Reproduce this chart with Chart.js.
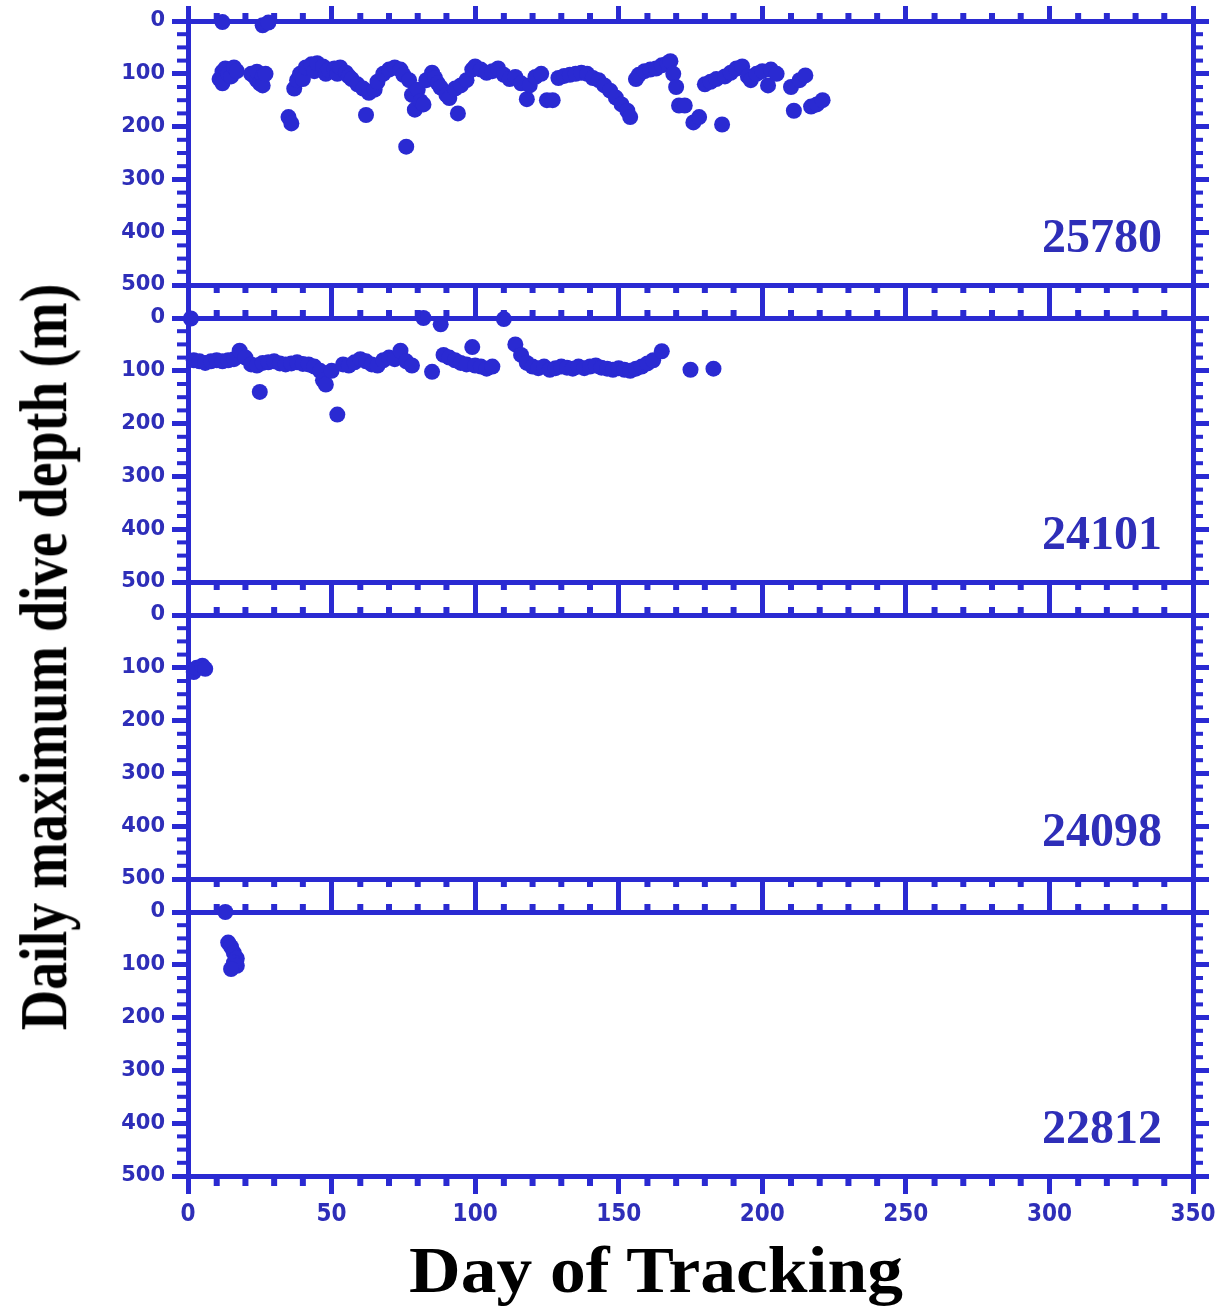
<!DOCTYPE html>
<html><head><meta charset="utf-8">
<script src="https://cdn.jsdelivr.net/npm/chart.js@4.4.0/dist/chart.umd.min.js"></script>
<style>
html,body{margin:0;padding:0;background:#fff;}
#wrap{position:relative;width:1230px;height:1306px;overflow:hidden;background:#fff;}
#wrap canvas{position:absolute;left:0;}
#ytitle{position:absolute;left:43px;top:657px;transform:translate(-50%,-50%) rotate(-90deg) scaleY(1.22);
  font:bold 56px "Liberation Serif","DejaVu Serif",serif;white-space:nowrap;color:#000;line-height:1;}
#xtitle{position:absolute;left:656px;top:1270px;transform:translate(-50%,-50%) scaleX(1.1);
  font:bold 65px "Liberation Serif","DejaVu Serif",serif;white-space:nowrap;color:#000;line-height:1;}
</style></head><body>
<div id="wrap">
  <canvas id="c0"></canvas><canvas id="c1"></canvas><canvas id="c2"></canvas><canvas id="c3"></canvas>
  <div id="ytitle">Daily maximum dive depth (m)</div>
  <div id="xtitle">Day of Tracking</div>
</div>
<script>
// ---------- data ----------
const dayTicks = [0, 50, 100, 150, 200, 250, 300, 350];
const depthTicks = [0, 100, 200, 300, 400, 500];
const tagIds = ['25780', '24101', '24098', '22812'];

const days25780 = [12,26,28, 11,12,12,13,14,15,16,17, 22,23,24,24,25,26,26,27,
  35,36,37,38,39,40,41,43,44,45,47,48,49,51,52,53,55,56,57,59,61,62,63,65,66,68,70,72,74,75,76,77,78,79,80,81,82,83,85,86,87,88,90,91,93,94,95,97,99,
  100,102,104,106,108,110,112,114,116,118,119,121,123,125,127,129,131,133,135,137,139,141,143,145,147,149,151,153,154,156,157,159,
  161,163,165,167,168,169,170,171,173,176,178,180,182,184,186,187,189,191,193,195,196,198,200,202,203,205,210,211,213,215,217,219,221];
const depth25780 = [2,8,3, 110,96,118,90,100,105,88,95, 100,104,112,96,118,105,122,100,
  182,194,128,112,100,110,88,82,95,80,86,100,92,90,100,88,98,105,110,120,128,178,136,130,115,100,92,88,92,102,238,112,140,168,130,152,158,112,98,108,118,126,140,146,128,175,122,112,92,
  86,92,98,95,90,102,110,106,118,148,122,106,100,150,150,108,104,102,100,98,100,108,112,122,132,145,158,170,182,110,102,95,
  92,90,84,80,76,100,125,160,160,192,182,120,115,110,196,105,98,90,86,105,112,100,95,122,92,100,125,170,112,103,162,158,150];

const days24101 = [1,2,4,6,8,10,12,14,16,18,20,22,24,25,26,28,30,32,34,36,38,40,42,44,46,47,48,50,52,54,56,58,60,62,64,66,68,70,72,74,76,78,
  82,85,88,89,91,93,95,97,99,100,102,104,106,110,114,116,118,120,122,124,126,128,130,132,134,136,138,140,142,144,146,148,150,152,154,156,158,160,162,165,175,183];
const depth24101 = [1,80,82,85,82,80,82,80,78,62,75,88,90,140,85,84,82,86,88,86,84,87,88,92,100,118,126,100,183,88,90,84,78,82,88,90,80,75,78,62,82,90,
  0,102,12,70,75,80,85,88,55,90,92,96,92,2,50,70,85,92,95,92,98,95,92,94,96,92,95,92,90,94,96,98,95,98,100,96,92,86,80,63,98,96];

const days24098 = [2, 3, 5, 6];
const depth24098 = [108, 100, 96, 102];

const days22812 = [13, 14, 15, 16, 17, 16, 17, 15];
const depth22812 = [0, 58, 66, 78, 88, 96, 102, 108];

const panelDays = [days25780, days24101, days24098, days22812];
const panelDepths = [depth25780, depth24101, depth24098, depth22812];

// ---------- style / layout ----------
const BLUE = '#2a2ad2';
const LABEL_BLUE = '#2e2eb8';
const PLOT_L = 188, PLOT_R = 1193, PH = 264;
const PANEL_TOP = [21, 318, 615, 912];
const BAND = 33;

const minorTicks = {
  id: 'minorTicks',
  afterDraw(chart, args, opts) {
    const {ctx, chartArea: a, scales} = chart;
    ctx.save();
    ctx.fillStyle = BLUE;
    for (let d = 10; d < 350; d += 10) {
      if (d % 50 === 0) continue;
      const px = scales.x.getPixelForValue(d);
      ctx.fillRect(px - 3, a.bottom, 6, opts.last ? 10 : 8);
      ctx.fillRect(px - 3, a.top - 8, 6, 8);
    }
    for (let m = 25; m < 500; m += 25) {
      if (m % 100 === 0) continue;
      const py = scales.y.getPixelForValue(m);
      ctx.fillRect(a.left - 11, py - 2, 11, 4);
      ctx.fillRect(a.right, py - 2, 10, 4);
    }
    ctx.restore();
  }
};

const panelLabel = {
  id: 'panelLabel',
  afterDraw(chart, args, opts) {
    const {ctx, chartArea: a} = chart;
    ctx.save();
    ctx.fillStyle = LABEL_BLUE;
    ctx.font = 'bold 48px "Liberation Serif", "DejaVu Serif", serif';
    ctx.textAlign = 'right';
    ctx.textBaseline = 'alphabetic';
    ctx.fillText(opts.text, a.right - 31, a.bottom - 33);
    ctx.restore();
  }
};

function makePanel(k) {
  const last = k === 3;
  const topExtra = k === 0 ? 21 : BAND;
  const botExtra = last ? 1306 - (PANEL_TOP[3] + PH) : BAND;
  const cv = document.getElementById('c' + k);
  cv.width = 1230;
  cv.height = topExtra + PH + botExtra;
  cv.style.top = (PANEL_TOP[k] - topExtra) + 'px';

  const pts = panelDays[k].map((d, i) => ({x: d, y: panelDepths[k][i]}));
  const setXTicks = s => { s.ticks = dayTicks.map(v => ({value: v})); };
  const setYTicks = s => { s.ticks = depthTicks.map(v => ({value: v})); };
  const gridBase = {drawOnChartArea: false, drawTicks: true, color: BLUE, lineWidth: 5};
  const border = {display: true, color: BLUE, width: 5};

  return new Chart(cv, {
    type: 'scatter',
    data: {datasets: [{
      label: tagIds[k], data: pts, clip: false,
      backgroundColor: BLUE, borderColor: BLUE, borderWidth: 0,
      pointRadius: 8, pointStyle: 'circle'
    }]},
    options: {
      responsive: false, animation: false, devicePixelRatio: 1,
      layout: {padding: 0},
      plugins: {legend: {display: false}, tooltip: {enabled: false},
        minorTicks: {last}, panelLabel: {text: tagIds[k]}},
      scales: {
        x: {type: 'linear', position: 'bottom', min: 0, max: 350,
          afterBuildTicks: setXTicks,
          ticks: {display: last, color: LABEL_BLUE, padding: 6,
            font: {family: '"DejaVu Sans Condensed","DejaVu Sans",sans-serif', weight: 'bold', size: 24}},
          grid: {...gridBase, tickLength: last ? 18 : BAND},
          border,
          afterFit: s => { s.height = botExtra; }},
        xTop: {type: 'linear', position: 'top', min: 0, max: 350,
          afterBuildTicks: setXTicks,
          ticks: {display: false},
          grid: {...gridBase, tickLength: k === 0 ? 15 : BAND},
          border,
          afterFit: s => { s.height = topExtra; }},
        y: {type: 'linear', position: 'left', min: 0, max: 500, reverse: true,
          afterBuildTicks: setYTicks,
          ticks: {color: LABEL_BLUE, padding: 7,
            font: {family: '"DejaVu Sans",sans-serif', weight: 'bold', size: 21}},
          grid: {...gridBase, tickLength: 16},
          border,
          afterFit: s => { s.width = PLOT_L; }},
        yR: {type: 'linear', position: 'right', min: 0, max: 500, reverse: true,
          afterBuildTicks: setYTicks,
          ticks: {display: false},
          grid: {...gridBase, tickLength: 16},
          border,
          afterFit: s => { s.width = 1230 - PLOT_R; }}
      }
    },
    plugins: [minorTicks, panelLabel]
  });
}
for (let k = 0; k < 4; k++) makePanel(k);
</script>
</body></html>
